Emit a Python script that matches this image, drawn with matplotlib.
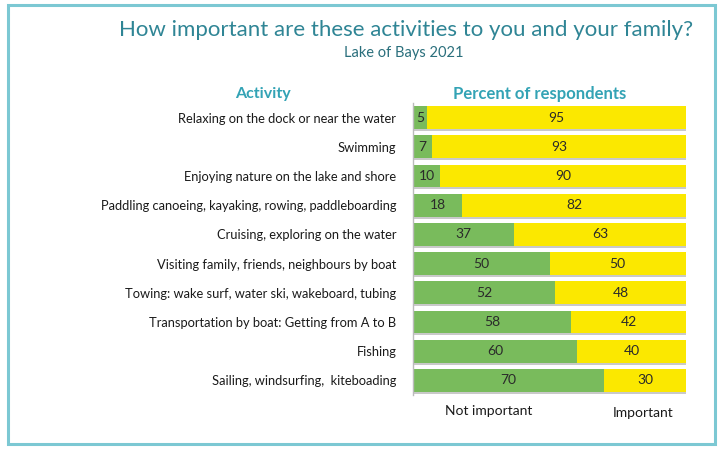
import matplotlib
matplotlib.use('Agg')
import matplotlib.pyplot as plt
import matplotlib.patheffects as pe
from matplotlib.patches import Rectangle
import numpy as np

plt.rcParams['font.family'] = ['Lato', 'DejaVu Sans']

activities = [
    'Relaxing on the dock or near the water',
    'Swimming',
    'Enjoying nature on the lake and shore',
    'Paddling canoeing, kayaking, rowing, paddleboarding',
    'Cruising, exploring on the water',
    'Visiting family, friends, neighbours by boat',
    'Towing: wake surf, water ski, wakeboard, tubing',
    'Transportation by boat: Getting from A to B',
    'Fishing',
    'Sailing, windsurfing,  kiteboading',
]
not_important = [5, 7, 10, 18, 37, 50, 52, 58, 60, 70]
important = [95, 93, 90, 82, 63, 50, 48, 42, 40, 30]

GREEN = '#79bb5c'
YELLOW = '#fbe800'
TEAL = '#2f8595'
HEAD = '#33a3b5'
INK = '#1a1a1a'

fig = plt.figure(figsize=(7.23, 4.49), dpi=100)
fig.patch.set_facecolor('white')

# teal frame around the slide
fig.patches.append(Rectangle((8 / 723, 5 / 449), 707 / 723, 439 / 449,
                             transform=fig.transFigure, fill=False,
                             edgecolor='#7cc8d3', linewidth=2.2))

ax = fig.add_axes([413 / 723, 1 - 395 / 449, 273 / 723, 292 / 449])
y = np.arange(len(activities))
shadow = [pe.SimplePatchShadow(offset=(1, -1.5), shadow_rgbFace='#888888', alpha=0.45), pe.Normal()]
ax.barh(y, not_important, height=0.78, color=GREEN, path_effects=shadow)
ax.barh(y, important, left=not_important, height=0.78, color=YELLOW, path_effects=shadow)

for yi, n, i in zip(y, not_important, important):
    xn = n / 2 if n >= 10 else max(n / 2, 1.8)
    ax.text(xn, yi, str(n), ha='center', va='center', fontsize=10, color='#2a2a2a')
    ax.text(n + i / 2, yi, str(i), ha='center', va='center', fontsize=10, color='#2a2a2a')

ax.set_xlim(0, 100)
ax.set_ylim(len(activities) - 0.5, -0.5)
ax.set_yticks(y)
ax.set_yticklabels(activities, fontsize=9.3, color=INK)
ax.tick_params(axis='y', length=0, pad=12)
ax.set_xticks([])
for s in ['top', 'right', 'bottom']:
    ax.spines[s].set_visible(False)
ax.spines['left'].set_color('#bbbbbb')
ax.spines['left'].set_linewidth(1)

fig.text(406 / 723, 1 - 30 / 449, 'How important are these activities to you and your family?',
         ha='center', va='center', fontsize=16, color=TEAL)
fig.text(404 / 723, 1 - 53 / 449, 'Lake of Bays 2021', ha='center', va='center',
         fontsize=10.5, color='#2a6f7c')
fig.text(263 / 723, 1 - 94 / 449, 'Activity', ha='center', va='center',
         fontsize=11.5, color=HEAD, fontweight='bold')
fig.text(540 / 723, 1 - 94 / 449, 'Percent of respondents', ha='center', va='center',
         fontsize=12, color=HEAD, fontweight='bold')
fig.text(489 / 723, 1 - 411 / 449, 'Not important', ha='center', va='center',
         fontsize=10, color=INK)
fig.text(643 / 723, 1 - 413 / 449, 'Important', ha='center', va='center',
         fontsize=10, color=INK)

fig.savefig('out.png', dpi=100)
